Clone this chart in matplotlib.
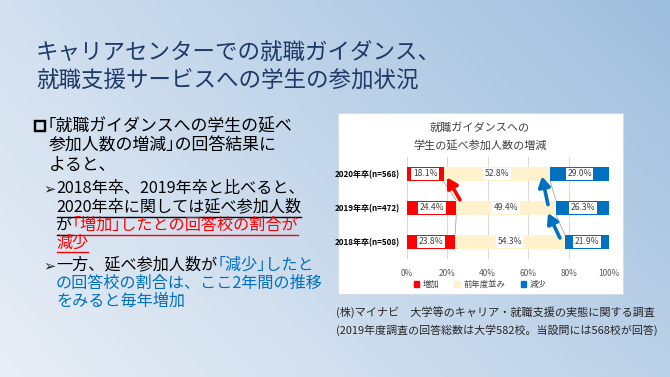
import numpy as np
import matplotlib
matplotlib.use("Agg")
import matplotlib.pyplot as plt
from matplotlib.patches import Rectangle, Patch

plt.rcParams['font.family'] = ['Noto Sans CJK JP', 'DejaVu Sans']

# data
years = ['2018年卒(n=508)', '2019年卒(n=472)', '2020年卒(n=568)']
increase = [23.8, 24.4, 18.1]
same = [54.3, 49.4, 52.8]
decrease = [21.9, 26.3, 29.0]
series_names = ['増加', '前年度並み', '減少']
ticks = [0, 20, 40, 60, 80, 100]

RED = '#ff0000'
CREAM = '#fff2cc'
BLUE = '#0070c0'

W, H = 670, 377
fig = plt.figure(figsize=(W / 100, H / 100), dpi=100)

# background slide (pixel coordinates, y down)
bg = fig.add_axes([0, 0, 1, 1])
bg.set_xlim(0, W)
bg.set_ylim(H, 0)
bg.axis('off')
xx, yy = np.meshgrid(np.linspace(0, 1, 300), np.linspace(0, 1, 170))
t = np.clip(0.3 * (1 - yy) + 0.6 * xx + 0.1 * xx * (1 - yy), 0, 1)
c0 = np.array([232, 238, 246]) / 255
c1 = np.array([158, 190, 222]) / 255
img = c0[None, None, :] * (1 - t[..., None]) + c1[None, None, :] * t[..., None]
bg.imshow(img, extent=[0, W, H, 0], aspect='auto', zorder=0)

# slide title
title_kw = dict(fontsize=16.2, color='#1f3a68', va='center', ha='left')
bg.text(36, 52, 'キャリアセンターでの就職ガイダンス、', **title_kw)
bg.text(36, 80, '就職支援サービスへの学生の参加状況', **title_kw)

fig.canvas.draw()
renderer = fig.canvas.get_renderer()
inv = bg.transData.inverted()


def put_runs(x, y, runs, size, ul_y=None):
    # runs: (text, color, underline)
    for txt, col, ul in runs:
        t_ = bg.text(x, y, txt, fontsize=size, color=col, va='center', ha='left')
        bb = t_.get_window_extent(renderer)
        (x0, y0), (x1, y1) = inv.transform([[bb.x0, bb.y0], [bb.x1, bb.y1]])
        if ul:
            bg.plot([x0 + 1, x1], [ul_y, ul_y], color=col, lw=1.0)
        x = x1


# main bullet
bg.add_patch(Rectangle((35, 121), 10, 9.5, fill=False, ec='black', lw=1.7))
body = 12.2
put_runs(48, 125, [('｢就職ガイダンスへの学生の延べ', 'black', False)], body)
put_runs(49, 145, [('参加人数の増減｣の回答結果に', 'black', False)], body)
put_runs(49, 165, [('よると、', 'black', False)], body)

sub = 11.6
bullet_kw = dict(fontsize=10.5, color='#262626', family='DejaVu Sans', va='center', ha='left')
bg.text(43, 189, '➢', **bullet_kw)
put_runs(56, 188, [('2018年卒、2019年卒と比べると、', 'black', False)], sub)
put_runs(56, 207, [('2020年卒に関しては延べ参加人数', 'black', True)], sub, ul_y=217)
put_runs(56, 225, [('が', 'black', True), ('｢増加｣したとの回答校の割合が', RED, True)], sub, ul_y=235)
put_runs(56, 243, [('減少', RED, True)], sub, ul_y=252)

bg.text(43, 266, '➢', **bullet_kw)
put_runs(56, 265, [('一方、延べ参加人数が', 'black', False), ('｢減少｣したと', BLUE, False)], sub)
put_runs(56, 283, [('の回答校の割合は、ここ2年間の推移', BLUE, False)], sub)
put_runs(56, 301, [('をみると毎年増加', BLUE, False)], sub)

# source note
bg.text(336, 312, '(株)マイナビ　大学等のキャリア・就職支援の実態に関する調査',
        fontsize=8.0, color='#262626', va='center', ha='left')
bg.text(336, 330, '(2019年度調査の回答総数は大学582校。当設問には568校が回答)',
        fontsize=7.9, color='#262626', va='center', ha='left')

# chart panel
bg.add_patch(Rectangle((338, 113), 285, 181, fc='white', ec='#d0d8e4', lw=0.5, zorder=1))
bg.text(480, 128, '就職ガイダンスへの', fontsize=8, color='#404040', ha='center', va='center', zorder=2)
bg.text(480, 146, '学生の延べ参加人数の増減', fontsize=8, color='#404040', ha='center', va='center', zorder=2)

ax = fig.add_axes([407 / W, (H - 259) / H, 202 / W, 102 / H])
ax.set_zorder(3)
ax.patch.set_alpha(0)

ypos = np.arange(len(years))
bh = 0.44
inc = np.array(increase)
sam = np.array(same)
dec = np.array(decrease)
ax.barh(ypos, inc, height=bh, color=RED, zorder=2)
ax.barh(ypos, sam, left=inc, height=bh, color=CREAM, zorder=2)
ax.barh(ypos, dec, left=inc + sam, height=bh, color=BLUE, zorder=2)

# series lines
cum1 = inc
cum2 = inc + sam
for i in range(len(years) - 1):
    for c in (cum1, cum2):
        ax.plot([c[i], c[i + 1]], [ypos[i] + bh / 2, ypos[i + 1] - bh / 2],
                color='#a6a6a6', lw=0.6, zorder=1)

# value labels
lab_kw = dict(ha='center', va='center', fontsize=6.2, color='#404040', zorder=4,
              bbox=dict(boxstyle='square,pad=0.18', fc='white', ec='none'))
for i in range(len(years)):
    ax.text(inc[i] / 2, ypos[i], f'{inc[i]:.1f}%', **lab_kw)
    ax.text(inc[i] + sam[i] / 2, ypos[i], f'{sam[i]:.1f}%', **lab_kw)
    ax.text(cum2[i] + dec[i] / 2, ypos[i], f'{dec[i]:.1f}%', **lab_kw)

# arrows
arrows = [((26.2, 1.24), (19.8, 1.9), RED),
          ((69.8, 1.1), (66.8, 1.93), BLUE),
          ((75.7, 0.12), (69.8, 0.85), BLUE)]
for tail, tip, col in arrows:
    ax.annotate('', xy=tip, xytext=tail, zorder=5,
                arrowprops=dict(arrowstyle='-|>,head_width=0.35,head_length=0.6',
                                lw=2.6, color=col, shrinkA=0, shrinkB=0))

ax.set_xlim(0, 100)
ax.set_ylim(-0.5, 2.5)
ax.set_xticks(ticks)
ax.set_xticklabels([f'{v}%' for v in ticks], fontsize=6, color='#595959')
ax.set_yticks(ypos)
ax.set_yticklabels(years, fontsize=5.8, color='black', fontweight='bold')
ax.tick_params(length=0, pad=5)
ax.tick_params(axis='x', pad=7)
ax.grid(axis='x', color='#d9d9d9', lw=0.7, zorder=0)
ax.set_axisbelow(True)
for s in ax.spines.values():
    s.set_visible(False)

handles = [Patch(color=RED), Patch(color=CREAM), Patch(color=BLUE)]
ax.legend(handles, series_names, loc='center', bbox_to_anchor=(480 / W, 1 - 284 / H),
          bbox_transform=fig.transFigure, ncol=3, frameon=False, fontsize=6,
          handlelength=0.7, handleheight=0.7, handletextpad=0.4, columnspacing=1.8,
          labelcolor='#404040')

fig.savefig('out.png', dpi=100)
